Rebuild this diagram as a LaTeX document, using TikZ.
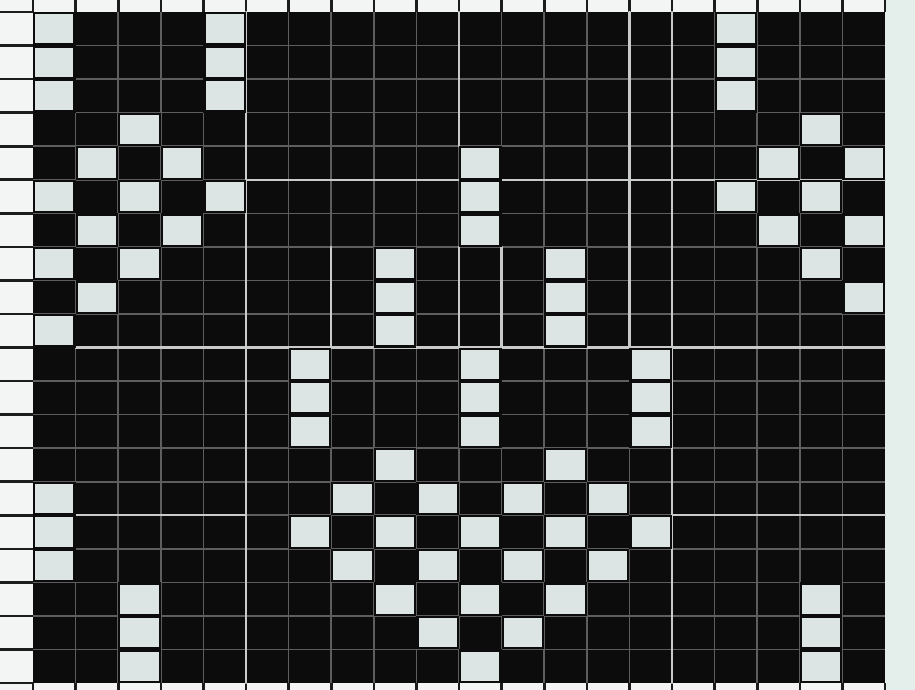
\documentclass[tikz,border=0pt]{standalone}
\begin{document}
\definecolor{outerw}{HTML}{F3F5F4}
\definecolor{rightw}{HTML}{E4EEEB}
\definecolor{cellblack}{HTML}{0C0C0C}
\definecolor{cellwhite}{HTML}{DCE5E3}
\definecolor{gridgray}{HTML}{5E5E5E}
\definecolor{gridbright}{HTML}{C8CBCA}
\definecolor{rimline}{HTML}{1C1C1C}
\begin{tikzpicture}[x=1pt,y=-1pt,
  rimstyle/.style={draw=rimline,line width=2.6pt},
  faintgrid/.style={draw=gridgray,line width=1.6pt},
  brightgrid/.style={draw=gridbright,line width=2.4pt,line cap=round},
  cellerase/.style={fill=cellblack},
  cellfill/.style={fill=cellwhite}]
\def\X{33}\def\Y{12}\def\W{42.6}\def\H{33.55}
\useasboundingbox (0,0) rectangle (915,690);
\fill[outerw] (0,0) rectangle (915,690);
\fill[rightw] (885,0) rectangle (915,690);
% outer strips with dark ruling
\foreach \i in {0,...,20}{
  \draw[rimstyle] ({\X+\i*\W},0) -- ({\X+\i*\W},12);
  \draw[rimstyle] ({\X+\i*\W},683) -- ({\X+\i*\W},690);
}
\foreach \j in {0,...,20}{
  \draw[rimstyle] (0,{\Y+\j*\H}) -- (33,{\Y+\j*\H});
}
% black field
\fill[cellblack] (\X,\Y) rectangle ({\X+20*\W},{\Y+20*\H});
% faint grid
\foreach \i in {1,...,19}{
  \draw[faintgrid] ({\X+\i*\W},\Y) -- ({\X+\i*\W},{\Y+20*\H});
  \draw[faintgrid] (\X,{\Y+\i*\H}) -- ({\X+20*\W},{\Y+\i*\H});
}
% brighter structural lines (col index / row index)
\foreach \c/\ra/\rb in {5/0/20, 15/0/20, 10/0/4, 14/0/10, 7/7/10, 10/7/10, 11/7/10}{
  \draw[brightgrid] ({\X+\c*\W},{\Y+\ra*\H}) -- ({\X+\c*\W},{\Y+\rb*\H});
}
\foreach \r/\ca/\cb in {10/1/20, 5/5/10, 5/11/20, 15/1/5, 15/15/20}{
  \draw[brightgrid] ({\X+\ca*\W},{\Y+\r*\H}) -- ({\X+\cb*\W},{\Y+\r*\H});
}
% white cells
\def\cellrows{0/{0,4,16},1/{0,4,16},2/{0,4,16},3/{2,18},4/{1,3,10,17,19},
  5/{0,2,4,10,16,18},6/{1,3,10,17,19},7/{0,2,8,12,18},8/{1,8,12,19},
  9/{0,8,12},10/{6,10,14},11/{6,10,14},12/{6,10,14},13/{8,12},
  14/{0,7,9,11,13},15/{0,6,8,10,12,14},16/{0,7,9,11,13},
  17/{2,8,10,12,18},18/{2,9,11,18},19/{2,10,18}}
\foreach \r/\cols in \cellrows{
  \foreach \c in \cols{
    \fill[cellerase] ({\X+\c*\W},{\Y+\r*\H}) rectangle ({\X+(\c+1)*\W},{\Y+(\r+1)*\H});
  }
}
\foreach \r/\cols in \cellrows{
  \foreach \c in \cols{
    \fill[cellfill] ({\X+\c*\W+2.2},{\Y+\r*\H+2.2}) rectangle ({\X+(\c+1)*\W-2.2},{\Y+(\r+1)*\H-2.2});
  }
}
\end{tikzpicture}
\end{document}
